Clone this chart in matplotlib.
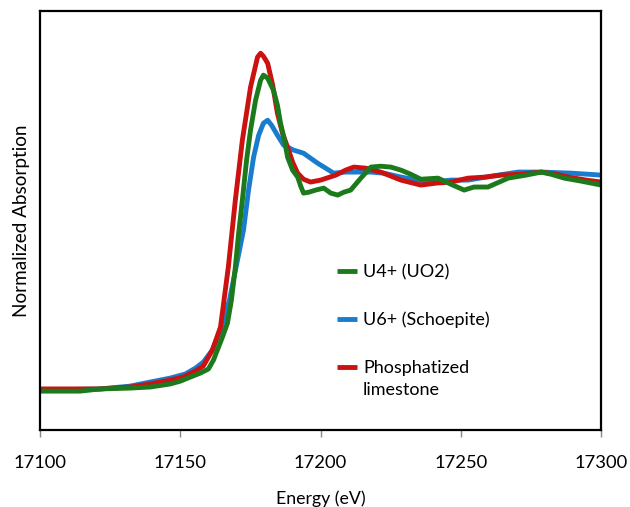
import numpy as np
import matplotlib.pyplot as plt
from matplotlib.legend_handler import HandlerLine2D

# energies (eV) and normalized absorption
e_red = [17100.0, 17121.4, 17132.1, 17139.3, 17146.4, 17151.1, 17155.4, 17158.2, 17161.4, 17164.3,
         17167.1, 17169.6, 17172.1, 17175.0, 17177.5, 17178.6, 17179.6, 17181.1, 17182.9, 17184.6,
         17186.4, 17188.2, 17190.0, 17191.8, 17193.9, 17196.4, 17200.0, 17205.4, 17208.9, 17211.8,
         17216.1, 17221.4, 17228.6, 17235.7, 17241.1, 17246.4, 17252.5, 17258.9, 17264.3, 17271.4,
         17278.6, 17283.9, 17288.2, 17294.6, 17300.0]
a_red = [0.005, 0.005, 0.014, 0.028, 0.046, 0.060, 0.088, 0.111, 0.184, 0.290,
         0.567, 0.876, 1.152, 1.396, 1.535, 1.553, 1.539, 1.507, 1.406, 1.276,
         1.184, 1.120, 1.051, 1.000, 0.972, 0.959, 0.968, 0.991, 1.014, 1.028,
         1.023, 1.005, 0.968, 0.945, 0.954, 0.959, 0.977, 0.982, 0.991, 0.995,
         1.005, 0.995, 0.982, 0.968, 0.959]

e_green = [17100.0, 17114.3, 17121.4, 17132.1, 17139.3, 17146.4, 17150.0, 17153.6, 17157.1, 17160.0,
           17161.8, 17163.6, 17165.0, 17166.8, 17168.2, 17169.6, 17170.7, 17172.1, 17173.6, 17175.0,
           17176.8, 17178.6, 17179.6, 17181.1, 17183.2, 17184.6, 17185.7, 17187.1, 17188.2, 17190.0,
           17191.8, 17192.9, 17193.9, 17195.7, 17198.2, 17201.1, 17203.6, 17206.1, 17208.2, 17210.7,
           17214.3, 17217.9, 17221.4, 17225.0, 17228.6, 17232.1, 17235.7, 17241.8, 17246.4, 17251.1,
           17254.6, 17259.6, 17266.8, 17273.2, 17278.6, 17282.1, 17286.8, 17292.9, 17300.0]
a_green = [-0.005, -0.005, 0.005, 0.009, 0.014, 0.028, 0.041, 0.060, 0.078, 0.097,
           0.138, 0.198, 0.244, 0.309, 0.415, 0.567, 0.714, 0.876, 1.060, 1.198,
           1.336, 1.429, 1.452, 1.438, 1.382, 1.313, 1.230, 1.152, 1.074, 1.014,
           0.982, 0.940, 0.908, 0.912, 0.922, 0.931, 0.908, 0.899, 0.912, 0.922,
           0.977, 1.028, 1.032, 1.028, 1.014, 0.995, 0.972, 0.977, 0.949, 0.922,
           0.936, 0.936, 0.977, 0.991, 1.005, 0.995, 0.977, 0.963, 0.945]

e_blue = [17100.0, 17121.4, 17132.1, 17139.3, 17146.4, 17151.8, 17155.4, 17158.2, 17161.4, 17164.3,
          17167.5, 17170.0, 17172.5, 17174.3, 17176.1, 17177.9, 17179.6, 17181.1, 17182.5, 17184.6,
          17186.8, 17190.4, 17193.9, 17196.4, 17198.9, 17201.8, 17204.6, 17208.9, 17213.2, 17217.9,
          17222.5, 17228.6, 17234.6, 17240.4, 17246.4, 17252.5, 17260.7, 17270.4, 17278.6, 17289.3,
          17300.0]
a_blue = [0.000, 0.005, 0.018, 0.037, 0.055, 0.074, 0.101, 0.129, 0.184, 0.276,
          0.415, 0.576, 0.737, 0.922, 1.074, 1.175, 1.230, 1.244, 1.221, 1.175,
          1.129, 1.106, 1.092, 1.069, 1.046, 1.023, 1.000, 1.005, 1.005, 1.005,
          1.000, 0.982, 0.968, 0.959, 0.968, 0.968, 0.986, 1.005, 1.005, 1.000,
          0.991]

labels = ['U4+ (UO2)', 'U6+ (Schoepite)', 'Phosphatized\nlimestone']


class ShiftedLine(HandlerLine2D):
    # legend sample lifted to sit beside the first line of a two-line label
    def __init__(self, dy, **kw):
        super().__init__(**kw)
        self.dy = dy

    def create_artists(self, legend, orig_handle, xdescent, ydescent, width, height, fontsize, trans):
        arts = super().create_artists(legend, orig_handle, xdescent, ydescent, width, height, fontsize, trans)
        for a in arts:
            a.set_ydata(np.asarray(a.get_ydata()) + self.dy)
        return arts


plt.rcParams['font.family'] = ['Lato', 'DejaVu Sans']

fig = plt.figure(figsize=(6.3, 5.07), dpi=100)
ax = fig.add_axes([0.0635, 0.152, 0.891, 0.826])

lb, = ax.plot(e_blue, a_blue, color='#1a7ccc', lw=3.5, solid_capstyle='butt')
lr, = ax.plot(e_red, a_red, color='#cc1111', lw=3.5, solid_capstyle='butt')
lg, = ax.plot(e_green, a_green, color='#1c7a1c', lw=3.5, solid_capstyle='butt')

ax.set_xlim(17100, 17300)
ax.set_ylim(-0.184, 1.747)
ax.set_xticks([17100, 17150, 17200, 17250, 17300])
ax.set_yticks([])
ax.tick_params(axis='x', direction='out', length=5, width=1, color='#888888',
               pad=13, labelsize=13.2)
for s in ax.spines.values():
    s.set_linewidth(1.6)

ax.set_xlabel('Energy (eV)', fontsize=12.8, labelpad=14)
ax.set_ylabel('Normalized Absorption', fontsize=13.6, labelpad=7)

leg = ax.legend([lg, lb, lr], labels,
                loc='upper left', bbox_to_anchor=(0.5, 0.435), frameon=False,
                handlelength=1.1, handletextpad=0.35, labelspacing=1.75, fontsize=13,
                handler_map={lr: ShiftedLine(dy=8.5)})
for t in leg.get_texts():
    t.set_linespacing(1.45)

fig.savefig('out.png', dpi=100)
